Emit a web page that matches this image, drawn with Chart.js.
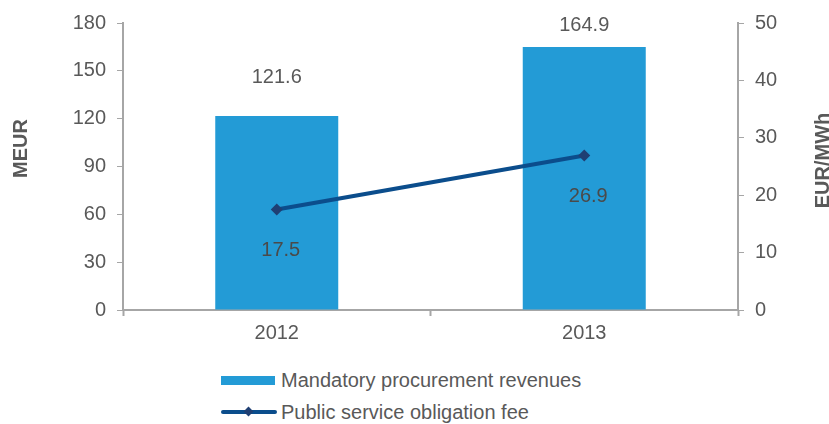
<!DOCTYPE html>
<html>
<head>
<meta charset="utf-8">
<script src="https://cdn.jsdelivr.net/npm/chart.js@4"></script>
<style>
    body { margin: 0; background: #fff; font-family: "Liberation Sans", Arial, sans-serif; }
    #wrap { position: relative; width: 829px; height: 424px; }
    #chart { position: absolute; left: 0; top: 0; }
    .legend-item { position: absolute; left: 221px; height: 24px; display: flex; align-items: center;
        font-size: 20px; color: #595959; }
    .swatch { width: 54px; height: 9px; background: #239bd6; margin-right: 6px; }
    .line-swatch { position: relative; width: 56px; height: 4px; background: #0b4d8c; margin-right: 4px; border-radius: 2px; }
    .line-swatch .dot { position: absolute; left: 24px; top: -2px; width: 7px; height: 7px; background: #1f3f73;
        transform: rotate(45deg); }
</style>
</head>
<body>
<div id="wrap">
    <canvas id="chart" width="829" height="350"></canvas>
    <div class="legend-item" style="top: 368px;"><div class="swatch"></div>Mandatory procurement revenues</div>
    <div class="legend-item" style="top: 400px;"><div class="line-swatch"><div class="dot"></div></div>Public service obligation fee</div>
</div>
<script>
// Chart data
const years = ['2012', '2013'];
const revenues = [121.6, 164.9];      // MEUR, left axis
const psoFee = [17.5, 26.9];          // EUR/MWh, right axis
const leftTicks = [0, 30, 60, 90, 120, 150, 180];
const rightTicks = [0, 10, 20, 30, 40, 50];
const leftTitle = 'MEUR';
const rightTitle = 'EUR/MWh';

const TEXT = '#595959';
const AXIS = '#a6a6a6';
const FONT = 'Liberation Sans';

// Value labels above bars / below line points, plus both axis titles (read bottom to top)
const valueLabels = {
    id: 'valueLabels',
    afterDatasetsDraw(chart) {
        const ctx = chart.ctx;
        const area = chart.chartArea;
        ctx.save();
        ctx.font = '20px "' + FONT + '"';
        ctx.textAlign = 'center';
        ctx.textBaseline = 'middle';

        chart.getDatasetMeta(0).data.forEach((bar, i) => {
            ctx.fillStyle = TEXT;
            const y = Math.max(bar.y - 39, area.top + 2);
            ctx.fillText(revenues[i].toFixed(1), bar.x, y);
        });

        chart.getDatasetMeta(1).data.forEach((pt, i) => {
            ctx.fillStyle = '#4a4a4a';
            ctx.fillText(psoFee[i].toFixed(1), pt.x + 4, pt.y + 41);
        });

        ctx.font = 'bold 20px "' + FONT + '"';
        ctx.fillStyle = TEXT;
        const midY = (area.top + area.bottom) / 2;
        [[leftTitle, 21, midY - 18], [rightTitle, 823, midY - 6]].forEach(([txt, x, y]) => {
            ctx.save();
            ctx.translate(x, y);
            ctx.rotate(-Math.PI / 2);
            ctx.fillText(txt, 0, 0);
            ctx.restore();
        });
        ctx.restore();
    }
};

new Chart(document.getElementById('chart'), {
    type: 'bar',
    data: {
        labels: years,
        datasets: [
            {
                type: 'bar',
                label: 'Mandatory procurement revenues',
                data: revenues,
                backgroundColor: '#239bd6',
                yAxisID: 'y',
                barPercentage: 0.4,
                categoryPercentage: 1.0,
                order: 2
            },
            {
                type: 'line',
                label: 'Public service obligation fee',
                data: psoFee,
                borderColor: '#0b4d8c',
                borderWidth: 4,
                pointStyle: 'rectRot',
                pointRadius: 6,
                pointBackgroundColor: '#1f3f73',
                pointBorderColor: '#1f3f73',
                pointBorderWidth: 0,
                yAxisID: 'y1',
                order: 1
            }
        ]
    },
    options: {
        responsive: false,
        animation: false,
        layout: { padding: { top: 18, bottom: 0, left: 0, right: 0 } },
        plugins: {
            legend: { display: false },
            tooltip: { enabled: false }
        },
        scales: {
            x: {
                offset: true,
                grid: { offset: true, drawOnChartArea: false, color: AXIS, tickLength: 6, tickWidth: 2 },
                border: { color: AXIS, width: 2 },
                ticks: { color: TEXT, font: { family: FONT, size: 20 }, padding: 5 },
                afterFit(scale) { scale.height = 40; }
            },
            y: {
                position: 'left',
                min: 0,
                max: 180,
                afterBuildTicks(scale) { scale.ticks = leftTicks.map(v => ({ value: v })); },
                grid: { drawOnChartArea: false, color: AXIS, tickLength: 6 },
                border: { color: AXIS, width: 2 },
                ticks: { color: TEXT, font: { family: FONT, size: 20 }, padding: 11 },
                afterFit(scale) { scale.width = 123; }
            },
            y1: {
                position: 'right',
                min: 0,
                max: 50,
                afterBuildTicks(scale) { scale.ticks = rightTicks.map(v => ({ value: v })); },
                grid: { drawOnChartArea: false, color: AXIS, tickLength: 6 },
                border: { color: AXIS, width: 2 },
                ticks: { color: TEXT, font: { family: FONT, size: 20 }, padding: 11 },
                afterFit(scale) { scale.width = 91; }
            }
        }
    },
    plugins: [valueLabels]
});
</script>
</body>
</html>
